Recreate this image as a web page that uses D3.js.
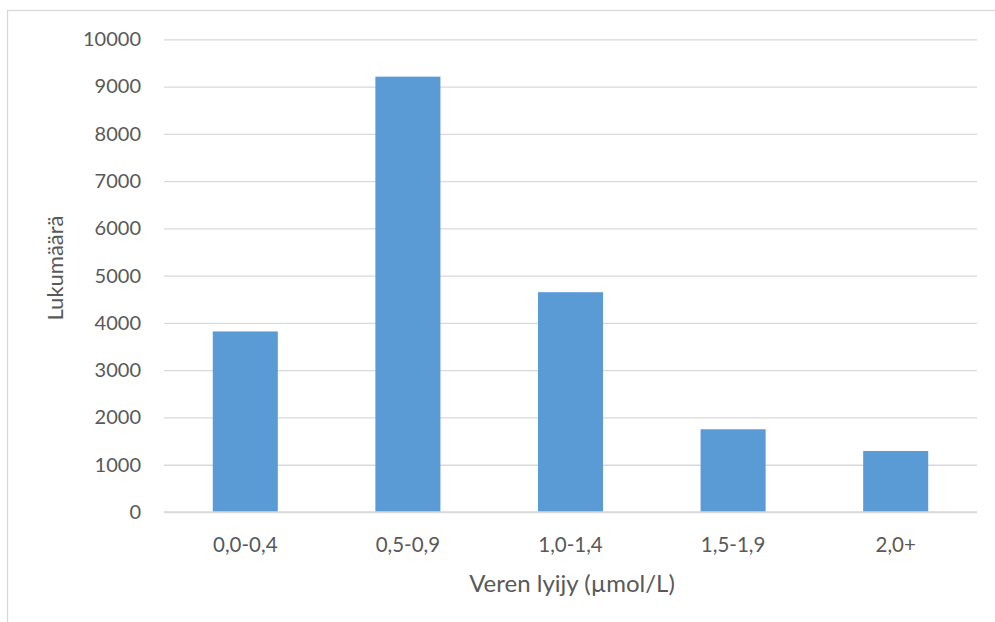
<!DOCTYPE html>
<html>
<head>
<meta charset="utf-8">
<script src="https://cdn.jsdelivr.net/npm/d3@7"></script>
<style>
  html, body { margin: 0; padding: 0; background: #ffffff; }
  svg { display: block; }
  text { font-family: Lato, "Open Sans", sans-serif; fill: #595959; }
</style>
</head>
<body>
<svg id="chart" width="995" height="622"></svg>
<script>
// Blood lead level distribution (number of measurements per class)
const categories = ["0,0-0,4", "0,5-0,9", "1,0-1,4", "1,5-1,9", "2,0+"];
const counts = [3820, 9210, 4650, 1750, 1290];
const yTicks = [0, 1000, 2000, 3000, 4000, 5000, 6000, 7000, 8000, 9000, 10000];
const xTitle = "Veren lyijy (µmol/L)";
const yTitle = "Lukumäärä";

const svg = d3.select("#chart");
const W = 995, H = 622;
const plot = { left: 164, right: 977, top: 39.3, bottom: 512 };

// chart frame
svg.append("rect")
  .attr("x", 7.5).attr("y", 10.5)
  .attr("width", W).attr("height", H)
  .attr("fill", "none").attr("stroke", "#d9d9d9").attr("stroke-width", 1.3);

const x = d3.scaleBand()
  .domain(categories)
  .range([plot.left, plot.right])
  .paddingInner(0.6)
  .paddingOuter(0.3);

const y = d3.scaleLinear()
  .domain([0, 10000])
  .range([plot.bottom, plot.top]);

// horizontal gridlines + tick labels
const yAxis = d3.axisLeft(y)
  .tickValues(yTicks)
  .tickFormat(d3.format("d"))
  .tickSize(-(plot.right - plot.left))
  .tickPadding(23);

const gy = svg.append("g")
  .attr("transform", `translate(${plot.left},0)`)
  .call(yAxis);
gy.select(".domain").remove();
gy.selectAll(".tick line").attr("stroke", "#d9d9d9").attr("stroke-width", 1.3);
gy.selectAll(".tick text")
  .style("font-size", "20px")
  .attr("fill", "#595959");

// bars
svg.append("g").selectAll("rect")
  .data(counts)
  .join("rect")
  .attr("x", (d, i) => x(categories[i]))
  .attr("y", d => y(d))
  .attr("width", x.bandwidth())
  .attr("height", d => y(0) - y(d))
  .attr("fill", "#5b9bd5");

// category axis
const xAxis = d3.axisBottom(x).tickSize(0).tickPadding(0);
const gx = svg.append("g")
  .attr("transform", `translate(0,${plot.bottom})`)
  .call(xAxis);
gx.select(".domain").remove();
gx.selectAll(".tick text")
  .attr("dy", null)
  .attr("y", 40)
  .style("font-size", "20.5px")
  .attr("fill", "#595959");

// redraw the baseline on top of the bars
svg.append("line")
  .attr("x1", plot.left).attr("x2", plot.right)
  .attr("y1", y(0)).attr("y2", y(0))
  .attr("stroke", "#d9d9d9").attr("stroke-width", 1.3);

// axis titles
svg.append("text")
  .attr("x", 572)
  .attr("y", 592)
  .attr("text-anchor", "middle")
  .style("font-size", "24px")
  .text(xTitle);

svg.append("text")
  .attr("transform", `translate(63,268) rotate(-90)`)
  .attr("text-anchor", "middle")
  .style("font-size", "22px")
  .text(yTitle);
</script>
</body>
</html>
